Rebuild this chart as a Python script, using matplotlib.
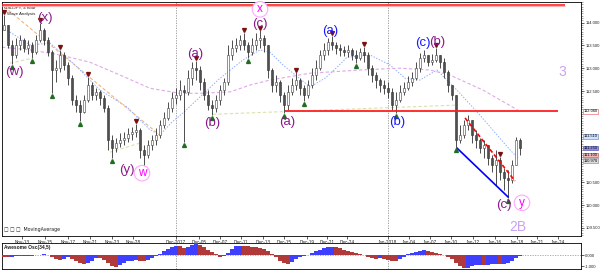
import numpy as np
import matplotlib.pyplot as plt
from matplotlib import transforms

plt.rcParams['font.family'] = ['Liberation Sans', 'DejaVu Sans']

# USDJPY 4 hour, one candle here stands for about two bars of the original
close = [113.94, 113.51, 113.29, 113.51, 113.61, 113.44, 113.51, 113.35, 113.61, 113.83,
         113.61, 113.35, 112.96, 113.00, 113.29, 113.07, 112.78, 112.30, 112.19, 112.04,
         112.30, 112.63, 112.41, 112.48, 112.35, 112.13, 111.43, 111.25, 111.36, 111.43,
         111.47, 111.56, 111.60, 111.65, 111.21, 111.10, 111.32, 111.43, 111.54, 111.75,
         111.91, 112.13, 112.35, 112.41, 112.52, 112.48, 112.78, 113.00, 112.96, 112.70,
         112.41, 112.19, 112.13, 112.30, 112.52, 112.70, 113.29, 113.44, 113.51, 113.61,
         113.51, 113.35, 113.51, 113.61, 113.66, 113.51, 112.96, 112.63, 112.70, 112.41,
         112.19, 112.48, 112.63, 112.74, 112.56, 112.41, 112.63, 112.85, 113.00, 113.29,
         113.40, 113.57, 113.51, 113.44, 113.40, 113.35, 113.40, 113.29, 113.22, 113.35,
         113.29, 113.00, 112.85, 112.74, 112.63, 112.56, 112.48, 112.19, 112.30, 112.48,
         112.56, 112.70, 112.78, 113.00, 113.22, 113.29, 113.13, 113.18, 113.29, 113.13,
         112.91, 112.63, 112.41, 111.43, 111.54, 111.75, 111.86, 111.54, 111.43, 111.25,
         111.32, 111.03, 110.88, 110.99, 110.73, 110.60, 110.55, 110.88, 111.43, 111.25]
high = [114.16, 113.94, 113.61, 113.66, 113.72, 113.66, 113.61, 113.57, 113.72, 113.99,
        113.88, 113.68, 113.40, 113.18, 113.40, 113.35, 113.13, 112.85, 112.41, 112.30,
        112.41, 112.81, 112.70, 112.56, 112.52, 112.41, 112.19, 111.54, 111.47, 111.58,
        111.60, 111.69, 111.71, 111.78, 111.69, 111.32, 111.43, 111.54, 111.69, 111.86,
        112.04, 112.26, 112.48, 112.56, 112.74, 112.63, 112.96, 113.13, 113.16, 113.05,
        112.78, 112.52, 112.30, 112.41, 112.63, 112.78, 113.51, 113.61, 113.66, 113.72,
        113.77, 113.57, 113.66, 113.77, 113.83, 113.72, 113.51, 113.00, 112.85, 112.74,
        112.48, 112.63, 112.78, 112.91, 112.78, 112.63, 112.74, 113.00, 113.18, 113.40,
        113.55, 113.66, 113.70, 113.57, 113.53, 113.48, 113.51, 113.44, 113.40, 113.44,
        113.46, 113.35, 113.07, 112.91, 112.78, 112.74, 112.70, 112.56, 112.48, 112.63,
        112.70, 112.83, 112.91, 113.13, 113.33, 113.40, 113.29, 113.31, 113.44, 113.29,
        113.22, 112.96, 112.56, 112.41, 111.75, 111.86, 111.97, 111.86, 111.65, 111.47,
        111.43, 111.32, 111.10, 111.21, 111.05, 110.81, 110.77, 110.99, 111.49, 111.47]
low = [113.83, 113.44, 113.09, 113.22, 113.40, 113.35, 113.31, 113.22, 113.31, 113.57,
       113.51, 113.26, 112.45, 112.70, 112.91, 112.96, 112.63, 112.19, 112.04, 111.84,
       112.02, 112.26, 112.30, 112.30, 112.19, 112.04, 111.21, 111.03, 111.16, 111.27,
       111.32, 111.38, 111.43, 111.49, 111.03, 110.81, 111.03, 111.21, 111.32, 111.47,
       111.69, 111.86, 112.04, 112.21, 112.30, 111.38, 112.41, 112.63, 112.74, 112.52,
       112.30, 112.08, 111.97, 112.04, 112.19, 112.41, 112.63, 113.18, 113.35, 113.40,
       113.40, 113.22, 113.29, 113.40, 113.44, 113.35, 112.78, 112.48, 112.48, 112.26,
       112.02, 112.08, 112.41, 112.52, 112.41, 112.28, 112.35, 112.56, 112.74, 112.96,
       113.18, 113.29, 113.40, 113.31, 113.26, 113.26, 113.24, 113.18, 113.11, 113.18,
       113.13, 112.85, 112.70, 112.56, 112.48, 112.43, 112.35, 112.08, 112.02, 112.26,
       112.41, 112.52, 112.61, 112.74, 112.91, 113.13, 113.05, 113.07, 113.13, 113.00,
       112.78, 112.48, 112.30, 111.27, 111.36, 111.47, 111.65, 111.36, 111.25, 111.14,
       111.03, 110.88, 110.73, 110.44, 110.55, 110.33, 110.16, 110.49, 110.92, 111.10]
first_open = 113.83

# Awesome Oscillator, one value per candle
ao = [-0.2, -0.2, -0.15, -0.1, -0.1, -0.08, -0.05, -0.05, -0.02, 0.02,
      0.05, 0.02, -0.15, -0.35, -0.45, -0.35, -0.2, -0.35, -0.55, -0.75,
      -0.85, -0.75, -0.5, -0.25, -0.3, -0.45, -0.75, -1.0, -1.1, -0.9,
      -0.7, -0.55, -0.5, -0.45, -0.5, -0.55, -0.45, -0.3, -0.1, 0.1,
      0.35, 0.55, 0.7, 0.85, 0.8, 0.65, 0.75, 0.95, 1.05, 0.9,
      0.7, 0.45, 0.25, 0.1, -0.15, -0.1, 0.2, 0.55, 0.8, 0.85,
      0.8, 0.78, 0.75, 0.72, 0.65, 0.55, 0.35, 0.1, -0.2, -0.5,
      -0.75, -0.8, -0.65, -0.4, -0.2, -0.05, 0.0, 0.15, 0.35, 0.5,
      0.6, 0.7, 0.75, 0.7, 0.6, 0.5, 0.4, 0.3, 0.2, 0.1,
      0.0, -0.15, -0.3, -0.35, -0.3, -0.4, -0.45, -0.5, -0.5, -0.35,
      -0.15, 0.05, 0.2, 0.3, 0.4, 0.45, 0.4, 0.3, 0.2, 0.1,
      0.0, -0.2, -0.4, -0.7, -1.0, -1.2, -1.15, -1.0, -0.95, -0.9,
      -0.95, -0.9, -0.85, -0.8, -0.85, -0.8, -0.7, -0.5, -0.3, -0.1]

# moving averages (candle index, price)
fast_ma_x = [-0.5, 1.5, 6.5, 11.5, 17.75, 24, 30.75, 36.5, 39, 42, 44.75, 49, 54, 59.75,
             64, 66.5, 69.75, 76.5, 80.25, 83.25, 85.75, 91.5, 96.5, 100.25, 104, 108.25,
             113.25, 119, 126.5, 128.5]
fast_ma = [113.88, 113.79, 113.51, 113.55, 113.07, 112.52, 112.15, 111.65, 111.54, 111.82,
           112.02, 112.37, 112.78, 113.18, 113.40, 113.35, 113.07, 112.59, 112.78, 113.02,
           113.24, 113.29, 113.07, 112.78, 112.74, 112.96, 112.52, 111.97, 111.21, 111.03]
slow_ma_x = [-0.5, 6.5, 14, 21.5, 29, 36.5, 44, 49, 56.5, 61.5, 66.5, 76.5, 89, 99,
             106.5, 111.5, 119.75, 128.5]
slow_ma = [113.46, 113.40, 113.29, 113.13, 112.85, 112.56, 112.45, 112.45, 112.48, 112.63,
           112.74, 112.89, 112.96, 113.00, 112.96, 112.85, 112.52, 112.08]

# fractal markers (candle index)
peak_bars = [0, 9, 14, 21, 33, 48, 60, 64, 73, 82, 90, 108, 124]
trough_bars = [2, 7, 12, 19, 27, 35, 45, 52, 61, 70, 75, 88, 98, 113, 126]

# analysis lines: (x0, y0, x1, y1)
trend_line = (-1, 114.42, 39, 111.53)
wave_lines = [(1.5, 113.11, 7.25, 113.22), (26.5, 111.16, 34, 111.36), (52.25, 111.99, 112.75, 112.19)]
channel_low = (113.25, 111.25, 126, 110.18)
channel_high = (115.25, 111.91, 127.75, 110.53)
resistance_top = 114.39
support_level = 112.06

# wave labels: text, candle index, price, colour
wave_labels = [
    ('(w)', 2.5, 112.91, '#8b1a8b'), ('(x)', 10.2, 114.10, '#8b1a8b'),
    ('(y)', 30.75, 110.77, '#8b1a8b'), ('(a)', 47.75, 113.31, '#8b1a8b'),
    ('(b)', 52, 111.80, '#8b1a8b'), ('(c)', 64, 113.96, '#8b1a8b'),
    ('(a)', 70.75, 111.82, '#8b1a8b'), ('(a)', 81.5, 113.81, '#1a1aff'),
    ('(b)', 98.25, 111.82, '#1a1aff'), ('(c)', 104.6, 113.55, '#1a1aff'),
    ('(b)', 108.2, 113.57, '#8b1a8b'), ('(c)', 125.0, 110.00, '#8b1a8b'),
]
circle_labels = [('w', 34.5, 110.70), ('x', 64, 114.29), ('y', 129.5, 110.05)]

date_pos = [4.5, 10.25, 16, 21.5, 27, 32.25, 43, 48.75, 54, 59.25, 64.75, 70, 75.75, 80.75,
            85.75, 96, 101.25, 106.5, 111.75, 117.25, 122.75, 128.25, 133.25, 138.5]
date_labels = ['Nov-13', 'Nov-15', 'Nov-17', 'Nov-21', 'Nov-23', 'Nov-28', 'Dec-2017', 'Dec-05',
               'Dec-07', 'Dec-11', 'Dec-13', 'Dec-15', 'Dec-19', 'Dec-21', 'Dec-24', 'Jan-2018',
               'Jan-04', 'Jan-07', 'Jan-10', 'Jan-12', 'Jan-16', 'Jan-18', 'Jan-21', 'Jan-24']
separators = [43, 96]

price_ticks = [109.5, 110.0, 110.5, 114.0, 113.5, 113.0, 112.5]
price_boxes = [(112.06, '#ffffff', '#e05050'), (111.51, '#cfe3ff', '#6080c0'),
               (111.25, '#8f8fe8', '#4040a0'), (111.10, '#f2b8b8', '#c04040'),
               (110.97, '#dcdcdc', '#808080')]

fig = plt.figure(figsize=(6, 2.71), dpi=100)
W, H = 600, 271
ax = fig.add_axes([2 / W, 1 - 236 / H, 579 / W, 234 / H])
axo = fig.add_axes([2 / W, 1 - 269 / H, 579 / W, 26 / H])

x = np.arange(len(close))
opens = np.array([first_open] + close[:-1])
closes = np.array(close)
highs = np.maximum.reduce([np.array(high), opens, closes])
lows = np.minimum.reduce([np.array(low), opens, closes])

# candles
ax.vlines(x, lows, highs, color='#303030', lw=0.6, zorder=3)
up = closes >= opens
body_lo = np.minimum(opens, closes)
body_h = np.maximum(np.abs(closes - opens), 0.01)
ax.bar(x[up], body_h[up], bottom=body_lo[up], width=0.55, color='white',
       edgecolor='#404040', lw=0.4, zorder=4)
ax.bar(x[~up], body_h[~up], bottom=body_lo[~up], width=0.55, color='#505050',
       edgecolor='#303030', lw=0.4, zorder=4)

# moving averages and analysis lines
ax.plot(fast_ma_x, fast_ma, color='#8fb0ff', lw=0.7, ls=(0, (1.5, 1.5)), zorder=2)
ax.plot(slow_ma_x, slow_ma, color='#e0a8e8', lw=0.8, ls=(0, (3, 2)), zorder=2)
ax.plot(trend_line[::2], trend_line[1::2], color='#f5b27a', lw=0.8, ls=(0, (3, 2)), zorder=2)
for ln in wave_lines:
    ax.plot(ln[::2], ln[1::2], color='#dde0a8', lw=0.8, ls=(0, (3, 2)), zorder=2)
ax.plot(channel_low[::2], channel_low[1::2], color='#0000ff', lw=1.2, zorder=5)
ax.plot(channel_high[::2], channel_high[1::2], color='#ff0000', lw=1.2, ls=(0, (2.5, 1.5)), zorder=5)
ax.hlines(resistance_top, -0.5, 140.25, color='#ff2020', lw=1.2, zorder=5)
ax.hlines(resistance_top - 0.03, -0.5, 140.25, color='#ffb0b0', lw=0.8, zorder=5)
ax.hlines(support_level, 70.25, 138.5, color='#ff2020', lw=1.3, zorder=5)
for s in separators:
    ax.axvline(s, color='#909090', lw=0.6, ls=(0, (1.5, 1.5)), zorder=1)
    axo.axvline(s, color='#909090', lw=0.6, ls=(0, (1.5, 1.5)), zorder=1)

# fractals
pb = np.array(peak_bars)
tb = np.array(trough_bars)
ax.plot(pb, highs[pb] + 0.06, 'v', color='#7a1010', ms=2.8, zorder=6)
ax.plot(tb, lows[tb] - 0.06, '^', color='#1f6e1f', ms=2.8, zorder=6)

for txt, xi, yi, col in wave_labels:
    ax.text(xi, yi, txt, color=col, fontsize=9.5, ha='center', va='center', zorder=7)
for txt, xi, yi in circle_labels:
    ax.text(xi, yi, txt, color='#ff00ff', fontsize=8.5, ha='center', va='center', zorder=7,
            bbox=dict(boxstyle='circle,pad=0.15', fc='white', ec='#ffa8ff', lw=0.8))
ax.text(139.5, 112.91, '3', color='#c9a2f2', fontsize=10, ha='center', va='center')
ax.text(128.5, 109.52, '2B', color='#c9a2f2', fontsize=10, ha='center', va='center')

ax.text(0.004, 0.987, 'USDJPY, 4 hour', transform=ax.transAxes, fontsize=3.2, va='top', color='#202020')
ax.text(0.008, 0.958, 'Wave Analysis', transform=ax.transAxes, fontsize=3.2, va='top', color='#202020')
ax.text(0.004, 0.015, '\u25a1 \u25a1 \u25a1  MovingAverage', transform=ax.transAxes, fontsize=3.4,
        va='bottom', color='#202020', family='DejaVu Sans')

ax.set_xlim(-0.5, 144.25)
ax.set_ylim(114.488 - 236 / 45.7, 114.488 - 2 / 45.7)
ax.yaxis.tick_right()
ax.set_yticks(price_ticks)
ax.set_yticklabels(['%.3f' % v for v in price_ticks])
ax.set_yticks(np.arange(109.35, 114.45, 0.05), minor=True)
ax.tick_params(axis='y', which='major', labelsize=3.0, length=2.5, width=0.5, pad=0.8, colors='#202020')
ax.tick_params(axis='y', which='minor', length=1.2, width=0.4, colors='#606060')
ax.set_xticks(date_pos)
ax.set_xticklabels(date_labels)
ax.tick_params(axis='x', labelsize=3.3, length=2, width=0.5, pad=1, colors='#202020')
for sp in ax.spines.values():
    sp.set_linewidth(0.6)

trans = transforms.blended_transform_factory(ax.transAxes, ax.transData)
for val, fc, ec in price_boxes:
    ax.text(1.005, val, '%.3f' % val, transform=trans, fontsize=2.9, va='center', ha='left',
            clip_on=False, zorder=8, bbox=dict(boxstyle='square,pad=0.1', fc=fc, ec=ec, lw=0.4))

# oscillator
ao_arr = np.array(ao)
prev = np.concatenate([[ao_arr[0] + 0.01], ao_arr[:-1]])
cols = np.where(ao_arr > prev, '#3f3fff', '#b03a3a')
axo.bar(x, ao_arr, width=0.85, color=cols, lw=0, zorder=3)
axo.axhline(0, color='#a0a0a0', lw=0.6, ls=(0, (1.5, 1.5)), zorder=1)
axo.set_xlim(-0.5, 144.25)
axo.set_ylim(-1.27, 1.09)
axo.yaxis.tick_right()
axo.set_yticks([0, -1])
axo.set_yticklabels(['0.000', '-1.000'])
axo.set_xticks([])
axo.tick_params(axis='y', labelsize=3.0, length=2, width=0.5, pad=0.8, colors='#202020')
for sp in axo.spines.values():
    sp.set_linewidth(0.6)
axo.text(0.004, 0.93, 'Awesome Osc(34,5)', transform=axo.transAxes, fontsize=3.5, va='top',
         fontweight='bold', color='#202020')

fig.savefig('out.png', dpi=100)
